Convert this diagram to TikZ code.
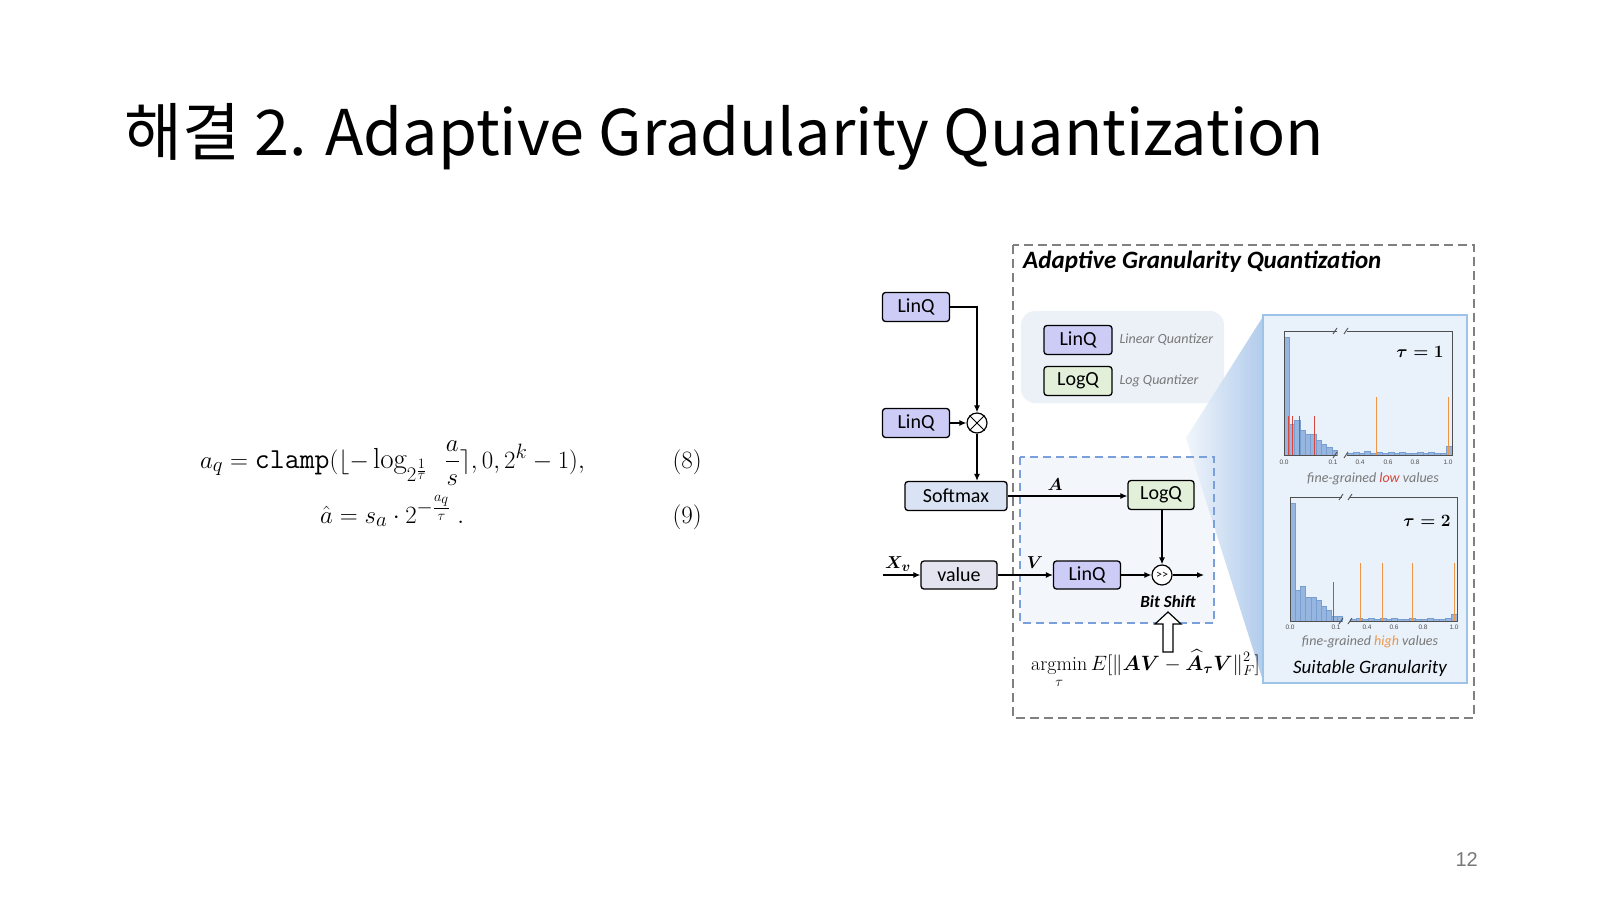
\documentclass[tikz,border=0pt]{standalone}
\usepackage{fontspec}
\usepackage{amsmath}
\usepackage{bm}
\usetikzlibrary{arrows.meta,calc}
\newfontfamily\krfont{Noto Sans CJK KR}
\newfontfamily\calfont{Carlito}
\newfontfamily\arialfont{Liberation Sans}
\definecolor{linqc}{RGB}{204,204,247}
\definecolor{logqc}{RGB}{226,240,217}
\definecolor{softc}{RGB}{218,227,243}
\definecolor{valc}{RGB}{228,228,240}
\definecolor{legbg}{RGB}{236,241,248}
\definecolor{dboxbg}{RGB}{243,246,251}
\definecolor{dblue}{RGB}{122,160,220}
\definecolor{panelbg}{RGB}{233,241,250}
\definecolor{panelbd}{RGB}{157,195,230}
\definecolor{wedgeL}{RGB}{240,245,251}
\definecolor{wedgeR}{RGB}{168,198,234}
\definecolor{histbar}{RGB}{150,182,224}
\definecolor{histedge}{RGB}{120,158,210}
\definecolor{redl}{RGB}{214,70,60}
\definecolor{orangel}{RGB}{238,150,70}
\definecolor{txtgray}{RGB}{120,120,120}
\definecolor{axgray}{RGB}{80,80,80}
\tikzset{
  qbox/.style={draw, rounded corners=3, line width=1.3, minimum height=29, inner sep=0,
    font=\calfont\fontsize{20}{22}\selectfont},
  arr/.style={line width=1.2, -{Latex[length=7,width=6]}},
  opc/.style={draw, circle, line width=1.2, minimum size=20, inner sep=0, fill=white},
  legtxt/.style={anchor=west, text=txtgray, font=\calfont\itshape\fontsize{14}{15}\selectfont},
  histfill/.style={fill=histbar, draw=histedge, line width=0.3},
  axisln/.style={draw=axgray, line width=0.9},
  ticklab/.style={text=axgray, font=\arialfont\fontsize{6.5}{7}\selectfont, inner sep=0},
  caplab/.style={text=txtgray, font=\calfont\itshape\fontsize{14}{16}\selectfont},
  eqfont/.style={inner sep=0, font=\fontsize{29}{33}\selectfont},
}
\begin{document}
\begin{tikzpicture}[x=1pt,y=-1pt]
\useasboundingbox[fill=white] (0,0) rectangle (1600,900);

% Title
\node[anchor=base west, inner sep=0, font=\krfont\fontsize{63}{70}\selectfont] (title) at (124,155) {해결 2. Adaptive Gradularity Quantization};

% Equations
\node[anchor=base west, eqfont] (eq8) at (200,468)
  {$a_q = \mathtt{clamp}(\lfloor -\log_{2^{\frac{1}{\tau}}}\hspace{0.45em}\dfrac{a}{s} \rceil, 0, 2^k-1),$};
\node[anchor=base west, eqfont] (eq9) at (320,523)
  {$\hat{a} = s_a \cdot 2^{-\frac{a_q}{\tau}}\;.$};
\node[anchor=base east, eqfont, font=\fontsize{25}{28}\selectfont] (n8) at (702,468) {(8)};
\node[anchor=base east, eqfont, font=\fontsize{25}{28}\selectfont] (n9) at (702,523) {(9)};

% Page number
\node[anchor=base east, inner sep=0, text=txtgray, font=\arialfont\fontsize{20}{24}\selectfont] (pg) at (1478,866) {12};

% Outer dashed box
\draw[draw=gray, line width=1.5, dash pattern=on 9pt off 5pt] (1013,245) rectangle (1474,718);
\node[anchor=base west, inner sep=0, font=\calfont\bfseries\itshape\fontsize{25}{28}\selectfont] (agq) at (1023,268) {Adaptive Granularity Quantization};

% Legend
\fill[legbg, rounded corners=14] (1021,311) rectangle (1224,403);
\node[qbox, fill=linqc, minimum width=68] (leglin) at (1078,340) {LinQ};
\node[qbox, fill=logqc, minimum width=68] (leglog) at (1078,381) {LogQ};
\node[legtxt] (legt1) at (1116,340) {Linear Quantizer};
\node[legtxt] (legt2) at (1116,381) {Log Quantizer};

% Blue dashed box background
\fill[dboxbg] (1020,457) rectangle (1214,623);

% Wedge
\shade[left color=wedgeL, right color=wedgeR, opacity=0.9] (1186,438) -- (1264,315) -- (1264,684) -- cycle;

% Blue dashed border
\draw[dblue, line width=1.8, dash pattern=on 8pt off 5pt] (1020,457) rectangle (1214,623);

% Right panel
\draw[fill=panelbg, draw=panelbd, line width=2.5] (1263,315) rectangle (1467,683);

% Histogram 1
\foreach \i/\t in {0/337,1/424,2/420,3/430,4/434,5/434,6/440,7/444,8/447,9/450}
  \filldraw[histfill] ({1284+5.3*\i},455) rectangle ({1284+5.3*(\i+1)},\t);
\foreach \i/\h in {0/2,1/3,2/2,3/4,4/2,5/3,6/2,7/3,8/2,9/3,10/2,11/2,12/3,13/2,14/3,15/2,16/2,17/9}
  \filldraw[histfill] ({1347+5.83*\i},455) rectangle ({1347+5.83*(\i+1)},{455-\h});
\foreach \x in {1288,1292,1299,1314} \draw[redl, line width=1] (\x,455) -- (\x,416);
\foreach \x in {1376,1448} \draw[orangel, line width=1] (\x,455) -- (\x,397);
\draw[axisln] (1337,331) -- (1284,331) -- (1284,455) -- (1337,455);
\draw[axisln] (1347,331) -- (1452,331) -- (1452,455) -- (1347,455);
\foreach \x in {1335,1346} {
  \draw[axisln] (\x-2,334) -- (\x+2,328);
  \draw[axisln] (\x-2,458) -- (\x+2,452);
}
\foreach \x/\l in {1284/0.0,1333/0.1,1360/0.4,1388/0.6,1415/0.8,1448/1.0}
  \node[ticklab] at (\x,462) {\l};
\node[inner sep=0, font=\boldmath\fontsize{18}{20}\selectfont] (tau1) at (1420,352) {$\tau = 1$};
\node[caplab] (cap1) at (1373,479) {fine-grained \textcolor{redl}{low} values};

% Histogram 2
\foreach \i/\t in {0/503,1/590,2/586,3/597,4/597,5/600,6/606,7/610,8/616,9/616}
  \filldraw[histfill] ({1290+5.2*\i},621) rectangle ({1290+5.2*(\i+1)},\t);
\foreach \i/\h in {0/2,1/3,2/2,3/3,4/2,5/3,6/2,7/3,8/2,9/2,10/3,11/2,12/2,13/3,14/2,15/2,16/3,17/7}
  \filldraw[histfill] ({1350+5.94*\i},621) rectangle ({1350+5.94*(\i+1)},{621-\h});
\draw[redl, line width=1] (1333,621) -- (1333,582);
\foreach \x in {1360,1382,1412,1454} \draw[orangel, line width=1] (\x,621) -- (\x,563);
\draw[axisln] (1342,497) -- (1290,497) -- (1290,621) -- (1342,621);
\draw[axisln] (1350,497) -- (1457,497) -- (1457,621) -- (1350,621);
\foreach \x in {1341,1350} {
  \draw[axisln] (\x-2,500) -- (\x+2,494);
  \draw[axisln] (\x-2,624) -- (\x+2,618);
}
\foreach \x/\l in {1290/0.0,1336/0.1,1367/0.4,1394/0.6,1423/0.8,1454/1.0}
  \node[ticklab] at (\x,627) {\l};
\node[inner sep=0, font=\boldmath\fontsize{18}{20}\selectfont] (tau2) at (1427,521) {$\tau = 2$};
\node[caplab] (cap2) at (1370,642) {fine-grained \textcolor{orangel}{high} values};
\node[inner sep=0, font=\calfont\itshape\fontsize{19}{21}\selectfont] (suit) at (1370,668) {Suitable Granularity};

% Flow nodes
\node[qbox, fill=linqc, minimum width=67] (lq1) at (916,307) {LinQ};
\node[qbox, fill=linqc, minimum width=67] (lq2) at (916,423) {LinQ};
\node[opc] (mul) at (977,423) {};
\draw[line width=1] (mul.45) -- (mul.225) (mul.135) -- (mul.315);
\node[qbox, fill=softc, minimum width=102] (sm) at (956,496) {Softmax};
\node[qbox, fill=logqc, minimum width=66] (logq) at (1161,495) {LogQ};
\node[qbox, fill=valc, minimum width=76, minimum height=28] (val) at (959,575) {value};
\node[qbox, fill=linqc, minimum width=67, minimum height=28] (lq3) at (1087,575) {LinQ};
\node[opc, font=\calfont\fontsize{12}{12}\selectfont] (shf) at (1162,575) {>{}>};
\coordinate (xin) at (883,575);
\coordinate (out) at (1204,575);

\draw[arr] (lq1.east) -| (mul.north);
\draw[arr] (lq2.east) -- (mul.west);
\draw[arr] (mul.south) -- (mul.south |- sm.north);
\draw[arr] (sm.east) -- (sm.east -| logq.west);
\draw[arr] (xin) -- (val.west);
\draw[arr] (val.east) -- (lq3.west);
\draw[arr] (lq3.east) -- (shf.west);
\draw[arr] (logq.south -| shf.north) -- (shf.north);
\draw[arr] (shf.east) -- (out);

\node[inner sep=0, font=\fontsize{19}{20}\selectfont] (lA) at (1055,485) {$\bm{A}$};
\node[inner sep=0, font=\fontsize{19}{20}\selectfont] (lV) at (1035,563) {$\bm{V}$};
\node[inner sep=0, font=\fontsize{19}{20}\selectfont] (lX) at (898,564) {$\bm{X_v}$};
\node[inner sep=0, font=\calfont\bfseries\itshape\fontsize{17}{19}\selectfont] (bs) at (1168,602) {Bit Shift};

% Hollow arrow
\draw[line width=1.2, fill=white] (1163,652) -- (1163,624) -- (1155,624) -- (1168,612) -- (1181,624) -- (1173,624) -- (1173,652) -- cycle;

% argmin
\node[anchor=base west, inner sep=0, font=\fontsize{20}{22}\selectfont] (amin) at (1031,670)
  {$\displaystyle\operatorname*{argmin}_{\tau} E[\|\bm{AV}-\widehat{\bm{A}}_{\bm{\tau}}\bm{V}\|_F^2]$};
\end{tikzpicture}
\end{document}
